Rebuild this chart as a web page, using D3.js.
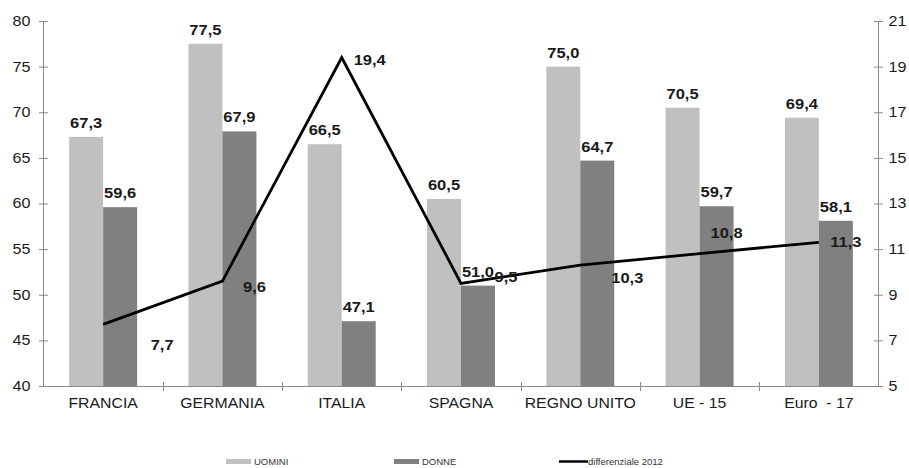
<!DOCTYPE html>
<html>
<head>
<meta charset="utf-8">
<script src="https://cdn.jsdelivr.net/npm/d3@7"></script>
<style>
  html, body { margin: 0; padding: 0; background: #fff; }
  svg { display: block; font-family: Arial, "Liberation Sans", sans-serif; }
  svg text { white-space: pre; }
</style>
</head>
<body>
<svg id="chart" width="909" height="468"></svg>
<script>
// ---- data ----
const categories = ["FRANCIA", "GERMANIA", "ITALIA", "SPAGNA", "REGNO UNITO", "UE - 15", "Euro  - 17"];
const uomini = [67.3, 77.5, 66.5, 60.5, 75.0, 70.5, 69.4];
const donne = [59.6, 67.9, 47.1, 51.0, 64.7, 59.7, 58.1];
const differenziale = [7.7, 9.6, 19.4, 9.5, 10.3, 10.8, 11.3];
const leftTicks = [40, 45, 50, 55, 60, 65, 70, 75, 80];
const rightTicks = [5, 7, 9, 11, 13, 15, 17, 19, 21];
const seriesNames = ["UOMINI", "DONNE", "differenziale 2012"];
// label placement offsets (layout only) for the line's data labels
const lineLabelDx = [59, 32, 28, 45, 47, 27, 27];
const lineLabelDy = [21, 6, 2, -6, 13, -21, 0];

const fmt = v => v.toFixed(1).replace(".", ",");
const SX = 1.15, SXB = 1.18;
const colLight = "#c0c0c0", colDark = "#808080", axisCol = "#8a8a8a", txtCol = "#1a1a1a";

const svg = d3.select("#chart");
const x = d3.scaleBand().domain(categories).range([43.5, 878.5]).padding(0);
const bw = x.bandwidth();
const xs = d3.scaleBand().domain(["U", "D"]).range([0, bw]).paddingInner(0).paddingOuter(0.755);
const yL = d3.scaleLinear().domain([40, 80]).range([386, 21]);
const yR = d3.scaleLinear().domain([5, 21]).range([386, 21]);

function stxt(g, xx, yy, text, opts) {
  const s = opts.sx || SX;
  return g.append("text")
    .attr("transform", `translate(${xx},${yy}) scale(${s},1)`)
    .attr("text-anchor", opts.anchor || "middle")
    .attr("dominant-baseline", opts.baseline || "auto")
    .attr("font-size", opts.size || 14)
    .attr("font-weight", opts.weight || "normal")
    .attr("fill", opts.fill || txtCol)
    .text(text);
}

// ---- bars ----
const gBars = svg.append("g");
categories.forEach((c, i) => {
  gBars.append("rect")
    .attr("x", x(c) + xs("U")).attr("width", xs.bandwidth())
    .attr("y", yL(uomini[i])).attr("height", yL(40) - yL(uomini[i]))
    .attr("fill", colLight);
  gBars.append("rect")
    .attr("x", x(c) + xs("D")).attr("width", xs.bandwidth())
    .attr("y", yL(donne[i])).attr("height", yL(40) - yL(donne[i]))
    .attr("fill", colDark);
});

// ---- axes ----
const gl = svg.append("g").attr("transform", "translate(43.5,0)")
  .call(d3.axisLeft(yL).tickValues(leftTicks).tickSize(5).tickPadding(8).tickFormat(d3.format("d")));
const gr = svg.append("g").attr("transform", "translate(878.5,0)")
  .call(d3.axisRight(yR).tickValues(rightTicks).tickSize(5).tickPadding(8).tickFormat(d3.format("d")));
[gl, gr].forEach(g => {
  g.selectAll(".tick line").attr("stroke", axisCol).attr("x1", -4.5).attr("x2", 4.5);
  g.attr("font-family", null).attr("font-size", null);
  g.select(".domain").remove();
});
svg.append("line").attr("x1", 43.5).attr("x2", 43.5).attr("y1", 21).attr("y2", 386).attr("stroke", axisCol);
svg.append("line").attr("x1", 878.5).attr("x2", 878.5).attr("y1", 21).attr("y2", 386).attr("stroke", axisCol);
gl.selectAll(".tick text").each(function() {
  d3.select(this).attr("x", -13 / SX).attr("transform", `scale(${SX},1)`).attr("font-size", 14).attr("fill", txtCol);
});
gr.selectAll(".tick text").each(function() {
  d3.select(this).attr("x", 10 / SX).attr("transform", `scale(${SX},1)`).attr("font-size", 14).attr("fill", txtCol);
});

// bottom axis
svg.append("line").attr("x1", 43.5).attr("x2", 878.5).attr("y1", 386.5).attr("y2", 386.5).attr("stroke", axisCol);
const gb = svg.append("g");
categories.slice(1).forEach(c => {
  gb.append("line").attr("x1", Math.round(x(c)) + 0.5).attr("x2", Math.round(x(c)) + 0.5)
    .attr("y1", 382).attr("y2", 391).attr("stroke", axisCol);
});
categories.forEach(c => {
  stxt(gb, x(c) + bw / 2, 408, c, { size: 14, sx: 1.13 });
});

// ---- line ----
const line = d3.line().x((d, i) => x(categories[i]) + bw / 2).y(d => yR(d));
svg.append("path").datum(differenziale).attr("d", line)
  .attr("fill", "none").attr("stroke", "#000").attr("stroke-width", 2.8).attr("stroke-linejoin", "miter");

// ---- bar value labels ----
const gLab = svg.append("g");
categories.forEach((c, i) => {
  stxt(gLab, x(c) + xs("U") + xs.bandwidth() / 2, yL(uomini[i]) - 9, fmt(uomini[i]), { weight: "bold", sx: SXB });
  stxt(gLab, x(c) + xs("D") + xs.bandwidth() / 2, yL(donne[i]) - 9, fmt(donne[i]), { weight: "bold", sx: SXB });
});
// line value labels
categories.forEach((c, i) => {
  stxt(gLab, x(c) + bw / 2 + lineLabelDx[i], yR(differenziale[i]) + lineLabelDy[i] + 5, fmt(differenziale[i]),
    { weight: "bold", sx: SXB });
});

// ---- legend ----
const lg = svg.append("g");
const legendY = 461.5;
const legX = [226, 394, 559];
lg.append("rect").attr("x", legX[0]).attr("y", legendY - 2.5).attr("width", 25).attr("height", 5).attr("fill", colLight);
lg.append("rect").attr("x", legX[1]).attr("y", legendY - 2.5).attr("width", 25).attr("height", 5).attr("fill", colDark);
lg.append("line").attr("x1", legX[2]).attr("x2", legX[2] + 29).attr("y1", legendY).attr("y2", legendY)
  .attr("stroke", "#000").attr("stroke-width", 2.5);
[legX[0] + 28, legX[1] + 28, legX[2] + 29].forEach((lx, i) => {
  stxt(lg, lx, legendY + 3.5, seriesNames[i], { anchor: "start", size: 9.5, sx: 1.0, fill: "#333" });
});
</script>
</body>
</html>
